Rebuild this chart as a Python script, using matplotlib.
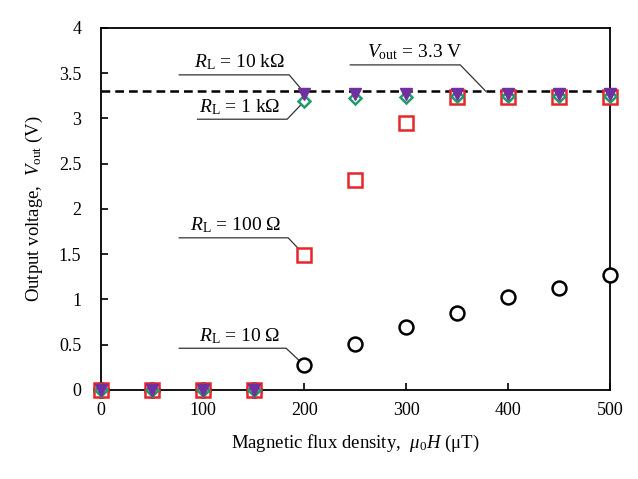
import numpy as np
import matplotlib.pyplot as plt

plt.rcParams['font.family'] = ['Liberation Serif', 'DejaVu Serif']
plt.rcParams['mathtext.fontset'] = 'custom'
plt.rcParams['mathtext.rm'] = 'Liberation Serif'
plt.rcParams['mathtext.it'] = 'Liberation Serif:italic'

field = [0, 50, 100, 150, 200, 250, 300, 350, 400, 450, 500]
v_10 = [0, 0, 0, 0, 0.27, 0.51, 0.69, 0.85, 1.03, 1.13, 1.27]
v_100 = [0, 0, 0, 0, 1.49, 2.32, 2.95, 3.23, 3.23, 3.23, 3.23]
v_1k = [0, 0, 0, 0, 3.19, 3.22, 3.24, 3.25, 3.25, 3.25, 3.25]
v_10k = [0, 0, 0, 0, 3.27, 3.27, 3.27, 3.27, 3.27, 3.27, 3.27]
v_target = 3.3

# (text, text x, underline x0, underline x1, line y, point x, point y)
labels = [
    (r'$R_{\rm L}$ = 10 k$\Omega$', 136, 77, 185, 3.48, 200, 3.28),
    (r'$R_{\rm L}$ = 1 k$\Omega$', 136, 95, 183, 2.99, 200, 3.19),
    (r'$R_{\rm L}$ = 100 $\Omega$', 132, 77, 184, 1.68, 200, 1.49),
    (r'$R_{\rm L}$ = 10 $\Omega$', 136, 77, 182, 0.46, 200, 0.27),
    (r'$V_{\rm out}$ = 3.3 V', 308, 245, 353, 3.59, 378, 3.30),
]

fig = plt.figure(figsize=(6.38, 4.79), dpi=100)
ax = fig.add_axes([0.158, 0.186, 0.798, 0.756])

ax.plot([0, 500], [v_target, v_target], color='black', ls='--', lw=1.8, dashes=(3.5, 2), zorder=1)

ax.plot(field, v_10, 'o', ms=10, mfc='white', mec='black', mew=1.8, clip_on=False, zorder=3)
ax.plot(field, v_100, 's', ms=9.5, mfc='white', mec='#e8252a', mew=1.8, clip_on=False, zorder=3)
ax.plot(field, v_1k, 'D', ms=6.5, mfc='white', mec='#1f9a6a', mew=1.8, clip_on=False, zorder=4)
ax.plot(field, v_10k, 'v', ms=8, color='#7030a0', clip_on=False, zorder=5)

for txt, tx, x0, x1, ly, px, py in labels:
    ax.text(tx, ly + 0.03, txt, ha='center', va='bottom', fontsize=14)
    ax.plot([x0, x1, px], [ly, ly, py], color='#333333', lw=0.9, zorder=2)

ax.set_xlim(0, 500)
ax.set_ylim(0, 4)
ax.set_xticks([0, 100, 200, 300, 400, 500])
ax.set_yticks(np.arange(0, 4.01, 0.5))
ax.set_yticklabels(['0', '0.5', '1', '1.5', '2', '2.5', '3', '3.5', '4'])
ax.tick_params(direction='in', labelsize=13, length=5, width=1.2, top=False, right=False)
ax.tick_params(axis='y', pad=14)
ax.tick_params(axis='x', pad=9)
for s in ax.spines.values():
    s.set_linewidth(1.3)

ax.set_xlabel(r'Magnetic flux density,  $\mu_0H$ ($\mathrm{\mu}$T)', fontsize=13.5, labelpad=10)
ax.set_ylabel(r'Output voltage,  $V_{\rm out}$ (V)', fontsize=13.5, labelpad=10)

fig.savefig('out.png', dpi=100)
